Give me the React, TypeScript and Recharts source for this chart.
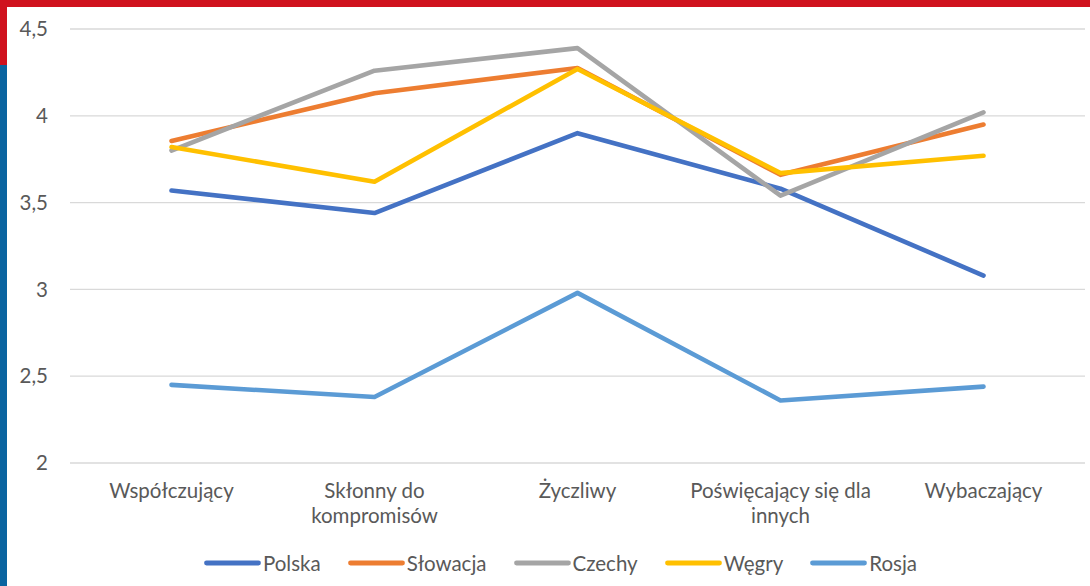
import React from 'react';
import { LineChart, Line, XAxis, YAxis, CartesianGrid, Legend } from 'recharts';

const categories = ['Współczujący', 'Skłonny do kompromisów', 'Życzliwy', 'Poświęcający się dla innych', 'Wybaczający'];
const categoryLines = [['Współczujący'], ['Skłonny do', 'kompromisów'], ['Życzliwy'], ['Poświęcający się dla', 'innych'], ['Wybaczający']];
const polska = [3.57, 3.44, 3.90, 3.58, 3.08];
const slowacja = [3.855, 4.13, 4.275, 3.66, 3.95];
const czechy = [3.80, 4.26, 4.39, 3.54, 4.02];
const wegry = [3.82, 3.62, 4.27, 3.67, 3.77];
const rosja = [2.45, 2.38, 2.98, 2.36, 2.44];
const yTicks = [2, 2.5, 3, 3.5, 4, 4.5];
const seriesNames = ['Polska', 'Słowacja', 'Czechy', 'Węgry', 'Rosja'];
const seriesValues = [polska, slowacja, czechy, wegry, rosja];
const colors = ['#4472C4', '#ED7D31', '#A5A5A5', '#FFC000', '#5B9BD5'];

const data = categories.map((name, i) => {
  const row: Record<string, any> = { name };
  seriesNames.forEach((s, k) => {
    row[s] = seriesValues[k][i];
  });
  return row;
});

const FONT = 'Lato, "Open Sans", sans-serif';
const TEXT_COLOR = '#595959';
const FS = 20.5;

const XTick = (props: any) => {
  const { x, y, payload } = props;
  const idx = categories.indexOf(payload.value);
  const lines = idx >= 0 ? categoryLines[idx] : [String(payload.value)];
  return (
    <text
      x={x}
      y={y}
      textAnchor="middle"
      fill={TEXT_COLOR}
      style={{ fontFamily: FONT, fontSize: FS }}
    >
      {lines.map((l, i) => (
        <tspan key={i} x={x} dy={i === 0 ? '0.71em' : 25}>
          {l}
        </tspan>
      ))}
    </text>
  );
};

const LegendContent = (props: any) => {
  const payload = [...(props.payload || [])].sort(
    (a: any, b: any) => seriesNames.indexOf(a.value) - seriesNames.indexOf(b.value)
  );
  return (
    <div
      style={{
        display: 'flex',
        justifyContent: 'center',
        alignItems: 'center',
        height: 46,
        paddingLeft: 36,
        boxSizing: 'border-box',
        fontFamily: FONT,
        fontSize: FS,
        color: TEXT_COLOR,
      }}
    >
      {payload.map((p: any, i: number) => (
        <div key={i} style={{ display: 'flex', alignItems: 'center', marginLeft: i === 0 ? 0 : 27 }}>
          <svg width={57} height={8} style={{ display: 'block' }}>
            <line x1={2.5} y1={4} x2={54.5} y2={4} stroke={p.color} strokeWidth={4.8} strokeLinecap="round" />
          </svg>
          <span style={{ marginLeft: 2 }}>{p.value}</span>
        </div>
      ))}
    </div>
  );
};

export default function App() {
  return (
    <div
      style={{
        position: 'absolute',
        left: 0,
        top: 0,
        width: 1090,
        height: 586,
        background: '#ffffff',
        overflow: 'hidden',
      }}
    >
      <div style={{ position: 'absolute', left: 0, top: 0 }}>
        <LineChart
          width={1090}
          height={586}
          data={data}
          margin={{ top: 29, right: 5, bottom: 0, left: 0 }}
        >
          <CartesianGrid vertical={false} stroke="#D9D9D9" strokeWidth={1.3} />
          <XAxis
            dataKey="name"
            scale="band"
            axisLine={false}
            tickLine={false}
            tickSize={0}
            tickMargin={20}
            interval={0}
            height={77}
            tick={<XTick />}
          />
          <YAxis
            width={70}
            domain={[2, 4.5]}
            ticks={yTicks}
            axisLine={false}
            tickLine={false}
            tickSize={0}
            tickMargin={22}
            tickFormatter={(v: number) => String(v).replace('.', ',')}
            tick={{ fill: TEXT_COLOR, fontSize: FS, fontFamily: FONT }}
          />
          <Legend verticalAlign="bottom" content={<LegendContent />} />
          {seriesNames.map((s, k) => (
            <Line
              key={s}
              type="linear"
              dataKey={s}
              stroke={colors[k]}
              strokeWidth={4.6}
              strokeLinecap="round"
              strokeLinejoin="round"
              dot={false}
              activeDot={false}
              isAnimationActive={false}
            />
          ))}
        </LineChart>
      </div>
      <div style={{ position: 'absolute', left: 0, top: 0, width: 1090, height: 7, background: '#D0121E' }} />
      <div style={{ position: 'absolute', left: 0, top: 0, width: 7, height: 65, background: '#D0121E' }} />
      <div style={{ position: 'absolute', left: 0, top: 65, width: 7, height: 521, background: '#0A64A0' }} />
    </div>
  );
}
